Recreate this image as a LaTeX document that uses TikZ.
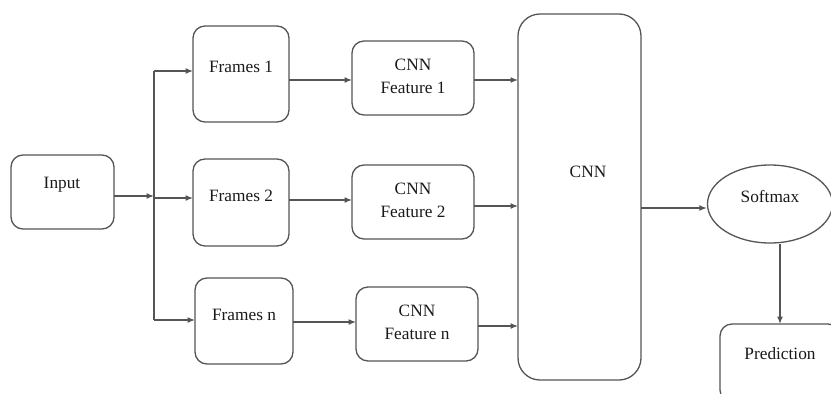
\documentclass[tikz,border=0pt]{standalone}
\usepackage{fontspec}
\setmainfont{Liberation Serif}
\usepackage{tikz}
\usetikzlibrary{shapes.geometric, arrows.meta, positioning, calc}
\definecolor{lineg}{RGB}{85, 85, 85}

\tikzset{
    box/.style={draw=lineg, line width=1.3pt, rounded corners=12pt, inner sep=0pt, outer sep=0pt},
    lbl/.style={font=\fontsize{17.3}{23}\selectfont, align=center, text=black!90},
    arr/.style={-{Latex[length=7.5pt, width=6pt]}, draw=lineg, line width=1.3pt}
}

\begin{document}
\begin{tikzpicture}[x=1pt, y=-1pt]
    \useasboundingbox (0,0) rectangle (831,394);
    \clip (0,0) rectangle (831,394);

    % boxes
    \node[box, minimum width=103pt, minimum height=74pt] (input) at (62.5,192) {};
    \node[box, minimum width=96pt, minimum height=96pt] (frames1) at (241,74) {};
    \node[box, minimum width=96pt, minimum height=87pt] (frames2) at (241,202.5) {};
    \node[box, minimum width=98pt, minimum height=86pt] (framesn) at (244,321) {};
    \node[box, minimum width=122pt, minimum height=74pt] (feat1) at (413,78) {};
    \node[box, minimum width=122pt, minimum height=74pt] (feat2) at (413,202) {};
    \node[box, minimum width=122pt, minimum height=74pt] (featn) at (417,324) {};
    \node[box, minimum width=123pt, minimum height=366pt, rounded corners=22pt] (cnn) at (579.5,197) {};
    \node[ellipse, draw=lineg, line width=1.3pt, minimum width=125pt, minimum height=78pt, inner sep=0pt] (softmax) at (770,204) {};
    \node[box, minimum width=120pt, minimum height=78pt] (pred) at (780,363) {};

    % labels
    \node[lbl] (inputtxt) at (62,185) {Input};
    \node[lbl] (frames1txt) at (241,67) {Frames 1};
    \node[lbl] (frames2txt) at (241,196) {Frames 2};
    \node[lbl] (framesntxt) at (244,315) {Frames n};
    \node[lbl] (feat1txt) at (413,76) {CNN\\Feature 1};
    \node[lbl] (feat2txt) at (413,200) {CNN\\Feature 2};
    \node[lbl] (featntxt) at (417,322) {CNN\\Feature n};
    \node[lbl] (cnntxt) at (588,172) {CNN};
    \node[lbl] (softmaxtxt) at (770,196) {Softmax};
    \node[lbl] (predtxt) at (780,354) {Prediction};

    % branching
    \coordinate (split) at (154,196);
    \coordinate (top) at (154,71);
    \coordinate (bot) at (154,320);
    \draw[arr] ([yshift=-4pt]input.east) -- (split);
    \draw[draw=lineg, line width=1.3pt] (top) -- (bot);
    \draw[arr] (top) -- (top -| frames1.west);
    \draw[arr] (154,198) -- (154,198 -| frames2.west);
    \draw[arr] (bot) -- (bot -| framesn.west);

    % frames to features
    \draw[arr] (frames1.east |- 0,80) -- (feat1.west |- 0,80);
    \draw[arr] (frames2.east |- 0,200) -- (feat2.west |- 0,200);
    \draw[arr] (framesn.east |- 0,322) -- (featn.west |- 0,322);

    % features to cnn
    \draw[arr] (feat1.east |- 0,80) -- (cnn.west |- 0,80);
    \draw[arr] (feat2.east |- 0,206) -- (cnn.west |- 0,206);
    \draw[arr] (featn.east |- 0,326) -- (cnn.west |- 0,326);

    \draw[arr] (cnn.east |- 0,208) -- (softmax.west |- 0,208);
    \draw[arr] (pred.north |- softmax.south) -- (pred.north);
\end{tikzpicture}
\end{document}
